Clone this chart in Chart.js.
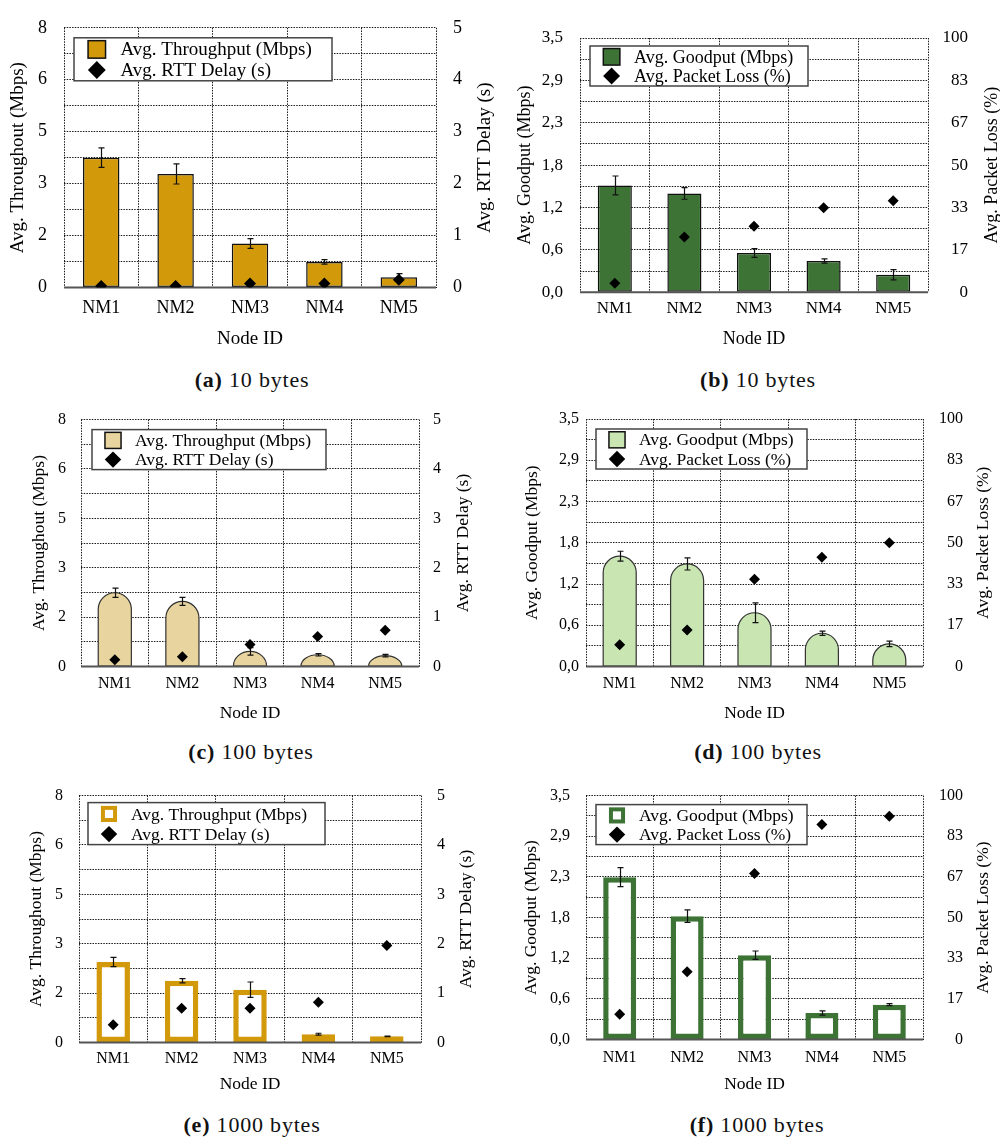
<!DOCTYPE html>
<html>
<head>
<meta charset="utf-8">
<script src="https://cdn.jsdelivr.net/npm/chart.js@4.4.1/dist/chart.umd.min.js"></script>
<style>
  html, body { margin: 0; padding: 0; background: #fff; }
  #fig { position: relative; width: 1000px; height: 1142px; overflow: hidden; }
  #fig canvas { position: absolute; }
  .cap { position: absolute; width: 300px; text-align: center;
         font-family: "Liberation Serif", "Times New Roman", serif;
         font-size: 22px; line-height: 26px; letter-spacing: 0.8px; color: #111; }
</style>
</head>
<body>
<div id="fig"></div>
<script>
// ---- data ------------------------------------------------------------
const nodes = ['NM1', 'NM2', 'NM3', 'NM4', 'NM5'];

// 10-byte payload
const thr10     = [4.00, 3.50, 1.36, 0.79, 0.32];
const thr10Err  = [0.30, 0.31, 0.15, 0.07, 0.11];
const rtt10     = [0.03, 0.03, 0.08, 0.08, 0.15];
const good10    = [1.47, 1.36, 0.54, 0.43, 0.24];
const good10Err = [0.13, 0.08, 0.06, 0.03, 0.07];
const loss10    = [3.5, 21.7, 25.9, 33.2, 36.0];

// 100-byte payload
const thr100     = [2.39, 2.11, 0.49, 0.38, 0.35];
const thr100Err  = [0.15, 0.13, 0.12, 0.04, 0.04];
const rtt100     = [0.135, 0.196, 0.446, 0.608, 0.736];
const good100    = [1.56, 1.45, 0.76, 0.47, 0.32];
const good100Err = [0.07, 0.085, 0.14, 0.03, 0.04];
const loss100    = [8.8, 14.7, 35.3, 44.1, 50.0];

// 1000-byte payload
const thr1000     = [2.61, 2.00, 1.71, 0.27, 0.20];
const thr1000Err  = [0.15, 0.07, 0.25, 0.03, 0.01];
const rtt1000     = [0.36, 0.695, 0.695, 0.815, 1.965];
const good1000    = [2.33, 1.77, 1.21, 0.38, 0.50];
const good1000Err = [0.135, 0.09, 0.06, 0.03, 0.015];
const loss1000    = [10.4, 27.8, 68.1, 88.1, 91.5];

// axis ranges and labelled ticks
const throughputMax = 8;
const throughputTicks = ['0', '2', '3', '5', '6', '8'];
const rttMax = 5;
const rttTicks = ['0', '1', '2', '3', '4', '5'];
const goodputMax = 3.5;
const goodputTicks = ['0,0', '0,6', '1,2', '1,8', '2,3', '2,9', '3,5'];
const lossMax = 100;
const lossTicks = ['0', '17', '33', '50', '67', '83', '100'];

const captions = [
  ['(a)', '10 bytes'], ['(b)', '10 bytes'],
  ['(c)', '100 bytes'], ['(d)', '100 bytes'],
  ['(e)', '1000 bytes'], ['(f)', '1000 bytes']
];

// ---- styling ---------------------------------------------------------
const FONT = '"Liberation Serif", "Times New Roman", serif';
const GOLD = '#D2990B';
const GREEN = '#3D7436';
const SAND = '#E8D49E';
const MINT = '#C9E5B2';
const GRID = '#1a1a1a';
const DOTS = [1.5, 1.2];

const KINDS = {
  thr: {
    leftMax: throughputMax, leftTicks: throughputTicks,
    rightMax: rttMax, rightTicks: rttTicks,
    leftTitle: 'Avg. Throughout (Mbps)', rightTitle: 'Avg. RTT Delay (s)',
    barLabel: 'Avg. Throughput (Mbps)', dotLabel: 'Avg. RTT Delay (s)'
  },
  good: {
    leftMax: goodputMax, leftTicks: goodputTicks,
    rightMax: lossMax, rightTicks: lossTicks,
    leftTitle: 'Avg. Goodput (Mbps)', rightTitle: 'Avg. Packet Loss (%)',
    barLabel: 'Avg. Goodput (Mbps)', dotLabel: 'Avg. Packet Loss (%)'
  }
};

// panel placement: canvas origin, plot area (L,T,R,B), label paddings, titles
const panels = [
  { at: [0, 0], kind: 'thr', bars: thr10, errs: thr10Err, dots: rtt10, look: 'solid', color: GOLD,
    area: [64, 16, 436, 288], padL: 17, rightPad: 17, rightEdge: null, titleX: [18, 485],
    xPad: 10, nodeY: 339, legend: [10, 10, 258, 43], fs: 18, ts: 19, dot: 6 },
  { at: [500, 0], kind: 'good', bars: good10, errs: good10Err, dots: loss10, look: 'solid', color: GREEN,
    area: [80, 38, 428, 292], padL: 17, rightPad: 0, rightEdge: 468, titleX: [25, 492],
    xPad: 6, nodeY: 339, legend: [10, 8, 218, 40], fs: 17, ts: 18, dot: 5.5 },
  { at: [0, 395], kind: 'thr', bars: thr100, errs: thr100Err, dots: rtt100, look: 'dome', color: SAND,
    area: [81, 24, 419, 271], padL: 15, rightPad: 14, rightEdge: null, titleX: [39, 463],
    xPad: 8, nodeY: 318, legend: [11, 10, 234, 40], fs: 16, ts: 17.5, dot: 5.5 },
  { at: [500, 395], kind: 'good', bars: good100, errs: good100Err, dots: loss100, look: 'dome', color: MINT,
    area: [86, 24, 423, 271], padL: 7, rightPad: 0, rightEdge: 463, titleX: [32, 483],
    xPad: 8, nodeY: 318, legend: [10, 10, 211, 40], fs: 16, ts: 17.5, dot: 5.5 },
  { at: [0, 770], kind: 'thr', bars: thr1000, errs: thr1000Err, dots: rtt1000, look: 'hollow', color: GOLD,
    area: [79, 22, 421, 272], padL: 16, rightPad: 16, rightEdge: null, titleX: [36, 466],
    xPad: 7, nodeY: 314, legend: [9, 7, 237, 42], fs: 16, ts: 17.5, dot: 5.5 },
  { at: [500, 770], kind: 'good', bars: good1000, errs: good1000Err, dots: loss1000, look: 'hollow', color: GREEN,
    area: [86, 22, 423, 269], padL: 16, rightPad: 0, rightEdge: 463, titleX: [31, 483],
    xPad: 9, nodeY: 314, legend: [10, 9, 211, 40], fs: 16, ts: 17.5, dot: 5.5 }
];
const captionCenters = [[252, 380], [758, 380], [251, 752], [758, 752], [252, 1125], [757, 1125]];

// ---- drawing helpers -------------------------------------------------
function gridValues(max, labels) {
  const n = 2 * (labels.length - 1);
  const out = [];
  for (let k = 0; k <= n; k++) out.push(k * max / n);
  return out;
}

function domePath(ctx, x, top, base, w) {
  const rx = w / 2;
  const ry = Math.min(rx, base - top);
  ctx.beginPath();
  ctx.moveTo(x - rx, base);
  ctx.lineTo(x - rx, top + ry);
  ctx.ellipse(x, top + ry, rx, ry, 0, Math.PI, 2 * Math.PI);
  ctx.lineTo(x + rx, base);
  ctx.closePath();
}

function barExtras(chart, meta, ds) {
  const ctx = chart.ctx, ys = chart.scales.y, a = chart.chartArea;
  ctx.save();
  ctx.strokeStyle = '#111';
  ctx.lineWidth = 1.2;
  meta.data.forEach((el, i) => {
    const v = ds.data[i], e = ds.errors[i];
    const yTop = ys.getPixelForValue(v + e);
    const yBot = ys.getPixelForValue(Math.max(0, v - e));
    const x = Math.round(el.x) + 0.5;
    ctx.beginPath();
    ctx.moveTo(x, yTop); ctx.lineTo(x, yBot);
    ctx.moveTo(x - 3, yTop); ctx.lineTo(x + 3, yTop);
    ctx.moveTo(x - 3, yBot); ctx.lineTo(x + 3, yBot);
    ctx.stroke();
  });
  ctx.strokeStyle = '#555';
  ctx.lineWidth = 2;
  ctx.beginPath();
  ctx.moveTo(a.left, a.bottom);
  ctx.lineTo(a.right, a.bottom);
  ctx.stroke();
  ctx.restore();
}

function verticalText(ctx, txt, x, y) {
  ctx.save();
  ctx.translate(x, y);
  ctx.rotate(-Math.PI / 2);
  ctx.textAlign = 'center';
  ctx.textBaseline = 'middle';
  ctx.fillText(txt, 0, 0);
  ctx.restore();
}

function drawLegend(chart, o) {
  const ctx = chart.ctx, a = chart.chartArea;
  const [dx, dy, w, h] = o.legend;
  const bx = a.left + dx, by = a.top + dy;
  const bar = chart.data.datasets.find(d => d.type === 'bar');
  const pts = chart.data.datasets.find(d => d.type === 'line');
  ctx.save();
  ctx.fillStyle = '#fff';
  ctx.fillRect(bx, by, w, h);
  ctx.strokeStyle = '#444';
  ctx.lineWidth = 1.5;
  ctx.strokeRect(bx, by, w, h);

  const sx = bx + o.ts * 1.2;
  const r1 = by + h * 0.27, r2 = by + h * 0.75;
  const s = o.ts * 0.92;
  if (bar.hollow) {
    const b = 4;
    ctx.fillStyle = bar.borderColor;
    ctx.fillRect(sx - s / 2, r1 - s / 2, s, s);
    ctx.fillStyle = '#fff';
    ctx.fillRect(sx - s / 2 + b, r1 - s / 2 + b, s - 2 * b, s - 2 * b);
  } else {
    ctx.fillStyle = bar.backgroundColor;
    ctx.fillRect(sx - s / 2, r1 - s / 2, s, s);
    ctx.strokeStyle = '#111';
    ctx.lineWidth = 1.5;
    ctx.strokeRect(sx - s / 2, r1 - s / 2, s, s);
  }
  const d = o.ts * 0.47;
  ctx.beginPath();
  ctx.moveTo(sx, r2 - d); ctx.lineTo(sx + d, r2); ctx.lineTo(sx, r2 + d); ctx.lineTo(sx - d, r2);
  ctx.closePath();
  ctx.fillStyle = '#000';
  ctx.fill();

  ctx.font = o.ts + 'px ' + FONT;
  ctx.textAlign = 'left';
  ctx.textBaseline = 'middle';
  ctx.fillStyle = '#000';
  ctx.fillText(bar.label, bx + o.ts * 2.45, r1 + 1);
  ctx.fillText(pts.label, bx + o.ts * 2.45, r2 + 1);
  ctx.restore();
}

const decor = {
  id: 'decor',
  beforeDatasetDraw(chart, args) {
    const ds = chart.data.datasets[args.index];
    if (ds.type !== 'bar' || !ds.dome) return;
    const ctx = chart.ctx;
    ctx.save();
    args.meta.data.forEach(el => {
      const p = el.getProps(['x', 'y', 'base', 'width'], true);
      domePath(ctx, p.x, p.y, p.base, p.width);
      ctx.fillStyle = ds.backgroundColor;
      ctx.fill();
      ctx.lineWidth = ds.borderWidth;
      ctx.strokeStyle = ds.borderColor;
      ctx.stroke();
    });
    ctx.restore();
    barExtras(chart, args.meta, ds);
    return false;
  },
  afterDatasetDraw(chart, args) {
    const ds = chart.data.datasets[args.index];
    if (ds.type === 'bar' && !ds.dome) barExtras(chart, args.meta, ds);
  },
  afterDraw(chart, args, o) {
    const ctx = chart.ctx, a = chart.chartArea;
    const cy = (a.top + a.bottom) / 2;
    ctx.save();
    ctx.font = o.ts + 'px ' + FONT;
    ctx.fillStyle = '#000';
    verticalText(ctx, o.leftTitle, o.titleX[0], cy);
    verticalText(ctx, o.rightTitle, o.titleX[1], cy);
    ctx.restore();
    drawLegend(chart, o);
  }
};

// ---- build the six panels -------------------------------------------
const fig = document.getElementById('fig');

panels.forEach((p, idx) => {
  const k = KINDS[p.kind];
  const [L, T, R, B] = p.area;
  const lh = 1.2 * p.ts;
  const xh = p.nodeY - B + lh / 2;
  const W = 500;
  const H = Math.round(B + xh);
  const padRight = p.rightEdge ? W - p.rightEdge : 0;
  const rightWidth = p.rightEdge ? p.rightEdge - R : W - R;

  const cv = document.createElement('canvas');
  cv.width = W; cv.height = H;
  cv.style.left = p.at[0] + 'px';
  cv.style.top = p.at[1] + 'px';
  cv.style.width = W + 'px';
  cv.style.height = H + 'px';
  fig.appendChild(cv);

  const leftVals = gridValues(k.leftMax, k.leftTicks);
  const rightVals = gridValues(k.rightMax, k.rightTicks);

  const barSet = {
    type: 'bar', label: k.barLabel, data: p.bars, errors: p.errs, yAxisID: 'y', order: 2,
    barPercentage: 0.49, categoryPercentage: 1, borderSkipped: false
  };
  if (p.look === 'solid') {
    Object.assign(barSet, { backgroundColor: p.color, borderColor: '#111', borderWidth: 1.5 });
  } else if (p.look === 'dome') {
    Object.assign(barSet, { backgroundColor: p.color, borderColor: '#333', borderWidth: 1.2, dome: true });
  } else {
    Object.assign(barSet, { backgroundColor: '#fff', borderColor: p.color, borderWidth: 5.5, hollow: true });
  }
  const dotSet = {
    type: 'line', label: k.dotLabel, data: p.dots, yAxisID: 'y1', order: 1,
    showLine: false, pointStyle: 'rectRot', pointRadius: p.dot, pointHoverRadius: p.dot,
    pointBackgroundColor: '#000', pointBorderColor: '#000', pointBorderWidth: 0
  };

  const tickFont = { family: FONT, size: p.fs };
  new Chart(cv, {
    type: 'bar',
    data: { labels: nodes, datasets: [barSet, dotSet] },
    options: {
      responsive: false,
      animation: false,
      devicePixelRatio: 1,
      layout: { padding: { left: 0, top: T, right: padRight, bottom: 0 } },
      plugins: {
        legend: { display: false },
        tooltip: { enabled: false },
        decor: {
          leftTitle: k.leftTitle, rightTitle: k.rightTitle,
          titleX: p.titleX, legend: p.legend, ts: p.ts
        }
      },
      scales: {
        x: {
          type: 'category', offset: true,
          grid: { display: true, offset: true, color: GRID, lineWidth: 1, drawTicks: false },
          border: { display: false, dash: DOTS },
          ticks: { padding: p.xPad, font: tickFont, color: '#000', maxRotation: 0 },
          title: { display: true, text: 'Node ID', color: '#000', font: { family: FONT, size: p.ts }, padding: 0 },
          afterFit(s) { s.height = xh; }
        },
        y: {
          type: 'linear', position: 'left', min: 0, max: k.leftMax,
          grid: { color: GRID, lineWidth: 1, drawTicks: false },
          border: { display: false, dash: DOTS },
          ticks: {
            padding: p.padL, font: tickFont, color: '#000', autoSkip: false,
            callback: (v, i) => (i % 2 === 0 ? k.leftTicks[i / 2] : '')
          },
          afterBuildTicks(s) { s.ticks = leftVals.map(v => ({ value: v })); },
          afterFit(s) { s.width = L; }
        },
        y1: {
          type: 'linear', position: 'right', min: 0, max: k.rightMax,
          grid: { display: false, drawTicks: false },
          border: { display: false },
          ticks: {
            padding: p.rightPad, font: tickFont, color: '#000', autoSkip: false,
            crossAlign: p.rightEdge ? 'far' : 'near',
            callback: (v, i) => (i % 2 === 0 ? k.rightTicks[i / 2] : '')
          },
          afterBuildTicks(s) { s.ticks = rightVals.map(v => ({ value: v })); },
          afterFit(s) { s.width = rightWidth; }
        }
      }
    },
    plugins: [decor]
  });
});

// ---- sub-figure captions --------------------------------------------
captions.forEach(([tag, text], i) => {
  const [cx, cy] = captionCenters[i];
  const el = document.createElement('div');
  el.className = 'cap';
  el.style.left = (cx - 150) + 'px';
  el.style.top = (cy - 13) + 'px';
  const b = document.createElement('b');
  b.textContent = tag;
  el.appendChild(b);
  el.appendChild(document.createTextNode(' ' + text));
  fig.appendChild(el);
});
</script>
</body>
</html>
